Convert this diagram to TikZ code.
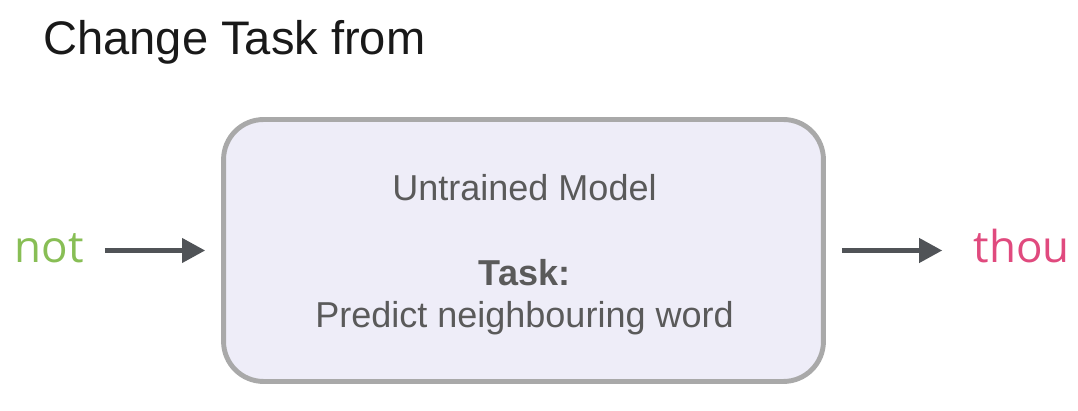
\documentclass[tikz,border=0pt]{standalone}
\usepackage{fontspec}
\setmainfont{Liberation Sans}
\newfontfamily\wordfont{Open Sans}
\usetikzlibrary{arrows.meta}
\definecolor{boxfill}{HTML}{EEEDF8}
\definecolor{boxline}{HTML}{A9A9A9}
\definecolor{boxtext}{HTML}{5A5A5A}
\definecolor{arrowgray}{HTML}{505357}
\definecolor{wordgreen}{HTML}{88BE55}
\definecolor{wordpink}{HTML}{E04A7E}
\tikzset{
  flow/.style={line width=2.3pt, draw=arrowgray, -{Triangle[length=0.46cm,width=0.48cm]}},
  word/.style={font=\wordfont\fontsize{25}{30}\selectfont, inner sep=0pt, anchor=base},
  boxlabel/.style={font=\fontsize{20.5}{24}\selectfont, text=boxtext, inner sep=0pt, anchor=base},
}

\begin{document}
\begin{tikzpicture}[x=0.02cm,y=-0.02cm]
      \useasboundingbox (0,0) rectangle (1078,411);
      \node[anchor=base west, inner sep=0pt, text=black!90,
        font=\fontsize{26.8}{31}\selectfont] (title) at (43,55) {Change Task from};
      \node[draw=boxline, fill=boxfill, line width=2.8pt, rounded corners=0.8cm,
        minimum width=12cm, minimum height=5.24cm] (model) at (523.5,250.5) {};
      \node[boxlabel] (name) at (524.5,201) {Untrained Model};
      \node[boxlabel, font=\bfseries\fontsize{20.5}{24}\selectfont] (task) at (524.5,286) {Task:};
      \node[boxlabel] (goal) at (524.5,328) {Predict neighbouring word};
      \node[word, text=wordgreen] (not) at (49,263) {not};
      \node[word, text=wordpink] (thou) at (1021.5,263) {thou};
      \begin{scope}[flow]
        \draw[shorten <=0.42cm, shorten >=0.32cm] (not.east |- model.west) to (model.west);
        \draw[shorten <=0.32cm, shorten >=0.62cm] (model.east) to (model.east -| thou.west);
      \end{scope}
    \end{tikzpicture}
\end{document}
